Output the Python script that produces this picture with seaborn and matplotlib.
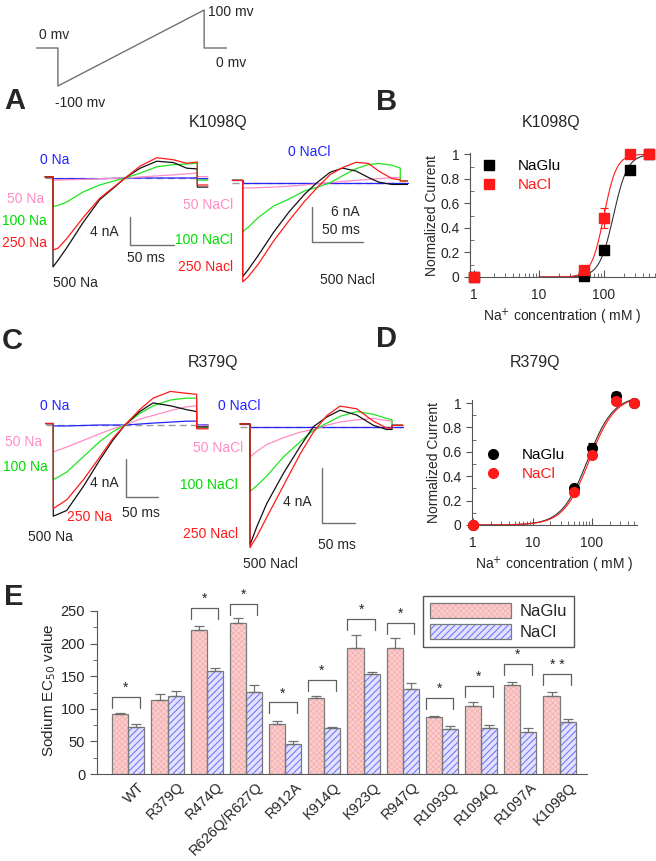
import numpy as np
import matplotlib
matplotlib.use("Agg")
import matplotlib.pyplot as plt
from matplotlib.lines import Line2D
from matplotlib.patches import Patch
from matplotlib.transforms import ScaledTranslation
import seaborn as sns
import pandas as pd

sns.set_style("ticks")
plt.rcParams['font.family'] = ['Liberation Sans', 'DejaVu Sans']
plt.rcParams['hatch.linewidth'] = 0.7

W, H = 656, 861

BLUE, PINK, GREEN, RED, BLACK, GRAY = '#2323ff', '#ff8cc6', '#1ee61e', '#ff1a1a', '#111111', '#9a9a9a'

# ---------------- data ----------------
# voltage protocol (ms, mV)
prot_t = [-24, 0, 0, 160, 160, 185]
prot_v = [0, 0, -100, 100, 0, 0]

# A left: K1098Q, NaGlu (ms, nA)
al_t = [0, 6, 16, 34, 53, 70, 82, 99, 118, 137, 152, 164]
al_500 = [-12.7, -11.7, -9.9, -6.4, -3.1, -1.3, 0, 1.4, 2.4, 2.2, 1.4, 1.3]
al_250 = [-10.3, -10.0, -8.6, -5.7, -2.9, -1.2, 0, 1.7, 2.9, 2.6, 2.1, 2.3]
al_100 = [-4.1, -3.9, -3.4, -2.0, -1.0, -0.4, 0, 0.7, 1.6, 1.9, 2.0, 2.1]
al_50 = [-0.3, -0.3, -0.25, -0.2, -0.1, -0.05, 0, 0.15, 0.3, 0.45, 0.6, 0.7]
al_0 = [-0.1, -0.1, -0.1, -0.1, -0.1, -0.05, 0, 0, 0, 0, 0, 0]
al_post = [-1.3, -1.0, -0.3, 0.2, -0.1]

# A right: K1098Q, NaCl
ar_t = [0, 5, 15, 30, 45, 60, 72, 85, 97, 110, 122, 132, 145, 153]
ar_500 = [-16.1, -15.0, -12.5, -8.5, -5.0, -2.0, 0, 1.8, 2.5, 2.0, 0.9, 0.1, -0.3, -0.3]
ar_250 = [-17.0, -16.2, -14.0, -10.0, -6.5, -3.2, -0.9, 1.4, 2.6, 3.5, 3.3, 2.0, 0.7, 0.5]
ar_100 = [-8.4, -7.7, -6.0, -4.0, -2.8, -1.4, -0.8, 0, 1.2, 2.4, 3.1, 3.3, 3.0, 2.5]
ar_50 = [-0.9, -0.9, -0.85, -0.75, -0.6, -0.4, -0.2, 0, 0.2, 0.4, 0.55, 0.7, 0.85, 0.9]
ar_0 = [0] * 14
ar_post = [-0.3, 0.3, 0.3, 0.3, 0.0]

# C left: R379Q, NaGlu
cl_t = [0, 21, 47, 73, 93, 112, 135, 156, 183, 208, 224]
cl_500 = [-9.5, -8.9, -6.4, -3.6, -1.6, 0, 1.4, 2.3, 2.0, 1.6, 1.4]
cl_250 = [-8.7, -7.8, -5.7, -3.3, -1.4, 0, 1.6, 2.8, 3.5, 3.3, 3.2]
cl_100 = [-5.7, -4.9, -3.3, -1.7, -0.7, 0, 1.2, 2.0, 2.6, 2.8, 2.8]
cl_50 = [-2.8, -2.3, -1.6, -0.9, -0.4, 0, 0.6, 1.0, 1.5, 1.9, 2.0]
cl_0 = [-0.1, -0.1, -0.05, 0, 0, 0, 0.1, 0.2, 0.3, 0.4, 0.4]
cl_post = [-0.2, -0.4, -0.3, -0.1, 0.0]

# C right: R379Q, NaCl
cr_t = [0, 10, 25, 50, 75, 95, 115, 135, 160, 185, 205, 213]
cr_500 = [-8.6, -7.3, -5.6, -3.4, -1.45, 0, 0.7, 1.2, 0.85, 0.1, -0.2, -0.2]
cr_250 = [-8.8, -8.0, -6.6, -4.3, -2.0, -0.4, 0.8, 1.5, 1.3, 0.4, -0.1, -0.1]
cr_100 = [-4.7, -4.3, -3.6, -2.2, -1.1, -0.25, 0.25, 0.75, 1.1, 0.9, 0.6, 0.5]
cr_50 = [-2.2, -1.8, -1.3, -0.8, -0.4, -0.2, 0.1, 0.35, 0.5, 0.6, 0.45, 0.4]
cr_0 = [-0.05] * 12
cr_post = [0.1, 0.1, 0.1, 0.1, 0.0]

# dose response (mM, normalized current)
conc = [1, 50, 100, 250, 500]
b_glu = [0, 0.01, 0.22, 0.87, 1.0]
b_glu_err = [0, 0.01, 0.02, 0.03, 0]
b_cl = [0, 0.06, 0.48, 1.0, 1.0]
b_cl_err = [0, 0.02, 0.08, 0.01, 0]
b_fit_ec50 = [140, 100]
b_fit_n = [4.0, 4.5]
d_glu = [0, 0.30, 0.63, 1.06, 1.0]
d_glu_err = [0, 0.02, 0.04, 0.03, 0]
d_cl = [0, 0.27, 0.57, 1.02, 1.0]
d_cl_err = [0, 0.02, 0.02, 0.02, 0]
d_fit_ec50 = [84, 90]
d_fit_n = [2.0, 2.0]
d_fit_max = [1.06, 1.06]

# E: EC50 values
mutants = ['WT', 'R379Q', 'R474Q', 'R626Q/R627Q', 'R912A', 'K914Q', 'K923Q',
           'R947Q', 'R1093Q', 'R1094Q', 'R1097A', 'K1098Q']
ec50_glu = [92, 114, 221, 231, 77, 117, 194, 194, 87, 105, 136, 120]
ec50_glu_err = [2, 8, 6, 8, 5, 3, 19, 14, 2, 6, 5, 6]
ec50_cl = [72, 120, 158, 126, 46, 71, 153, 131, 69, 71, 65, 80]
ec50_cl_err = [5, 7, 5, 10, 4, 1, 3, 8, 5, 4, 5, 5]
sig_marks = ['*', '', '*', '*', '*', '*', '*', '*', '*', '*', '*', '* *']
sig_height = [118, 0, 255, 261, 110, 144, 238, 232, 117, 135, 169, 153]

# ---------------- figure ----------------
fig = plt.figure(figsize=(W / 100, H / 100), dpi=100)


def px_axes(l, t, r, b):
    return fig.add_axes([l / W, 1 - b / H, (r - l) / W, (b - t) / H])


def ftext(x, y, s, **kw):
    kw.setdefault('va', 'center')
    kw.setdefault('fontsize', 10)
    fig.text(x / W, 1 - y / H, s, **kw)


def trace_axes(l, t, r, b, t0, pxms, base, pxna):
    ax = px_axes(l, t, r, b)
    ax.set_xlim((l - t0) / pxms, (r - t0) / pxms)
    ax.set_ylim((base - b) / pxna, (base - t) / pxna)
    ax.axis('off')
    return ax


def draw_set(ax, t, curves, posts, t_pre, t_end, pre=0.15):
    # curves: 500, 250, 100, 50, 0
    cols = [BLACK, RED, GREEN, PINK, BLUE]
    ax.plot([t_pre, t_end], [0, 0], color=GRAY, lw=1.0, ls=(0, (5, 3)))
    for k in [4, 3, 2, 0, 1]:
        tt = [t_pre, 0] + list(t) + [t[-1], t_end]
        yy = [pre, pre] + list(curves[k]) + [posts[k], posts[k]]
        ax.plot(tt, yy, color=cols[k], lw=0.9)


def scale_bar(ax, t, y, dy, dt=50):
    ax.plot([t, t, t + dt], [y + dy, y, y], color='#707070', lw=1.0)


# protocol
ax_p = px_axes(36, 8, 227, 88)
ax_p.plot(prot_t, prot_v, color='#707070', lw=1.0)
ax_p.set_xlim(-24, 185)
ax_p.set_ylim(-105.3, 105.3)
ax_p.axis('off')
ftext(39, 35, '0 mv')
ftext(208, 12, '100 mv')
ftext(216, 63, '0 mv')
ftext(55, 103, '-100 mv')

# panel letters and titles
for x, y, s in [(4, 101, 'A'), (376, 102, 'B'), (2, 341, 'C'), (376, 339, 'D'), (4, 597, 'E')]:
    ftext(x, y, s, fontsize=21, fontweight='bold')
for x, y, s in [(218, 122, 'K1098Q'), (551, 123, 'K1098Q'), (213, 362, 'R379Q'), (535, 363, 'R379Q')]:
    ftext(x, y, s, fontsize=11.5, ha='center')

# A traces
ax_al = trace_axes(40, 150, 212, 280, 53, 0.88, 178, 7.0)
draw_set(ax_al, al_t, [al_500, al_250, al_100, al_50, al_0], al_post, -9, 176)
scale_bar(ax_al, 87.5, -9.6, 4)
ax_ar = trace_axes(228, 148, 410, 290, 242.7, 1.03, 182.7, 5.83)
draw_set(ax_ar, ar_t, [ar_500, ar_250, ar_100, ar_50, ar_0], ar_post, -10, 160, pre=0.4)
scale_bar(ax_ar, 67, -10.1, 6)

ftext(40, 160, '0 Na', color=BLUE)
ftext(7, 199, '50 Na', color=PINK)
ftext(2, 221, '100 Na', color='#00dd00')
ftext(2, 243, '250 Na', color=RED)
ftext(53, 283, '500 Na')
ftext(90, 232, '4 nA')
ftext(127, 258, '50 ms')
ftext(288, 152, '0 NaCl', color=BLUE)
ftext(183, 205, '50 NaCl', color=PINK)
ftext(175, 240, '100 NaCl', color='#00dd00')
ftext(178, 267, '250 Nacl', color=RED)
ftext(320, 280, '500 Nacl')
ftext(331, 212, '6 nA')
ftext(322, 230, '50 ms')

# C traces
ax_cl = trace_axes(40, 390, 212, 520, 53.3, 0.64, 425, 9.6)
draw_set(ax_cl, cl_t, [cl_500, cl_250, cl_100, cl_50, cl_0], cl_post, -12, 242)
scale_bar(ax_cl, 113.6, -7.5, 4)
ax_cr = trace_axes(235, 390, 410, 552, 250, 0.667, 426.7, 13.75)
draw_set(ax_cr, cr_t, [cr_500, cr_250, cr_100, cr_50, cr_0], cr_post, -15, 229, pre=0.2)
scale_bar(ax_cr, 107.5, -7.0, 4)

ftext(40, 406, '0 Na', color=BLUE)
ftext(5, 442, '50 Na', color=PINK)
ftext(3, 467, '100 Na', color='#00dd00')
ftext(90, 483, '4 nA')
ftext(67, 517, '250 Na', color=RED)
ftext(28, 537, '500 Na')
ftext(122, 513, '50 ms')
ftext(218, 406, '0 NaCl', color=BLUE)
ftext(193, 448, '50 NaCl', color=PINK)
ftext(180, 485, '100 NaCl', color='#00dd00')
ftext(183, 534, '250 Nacl', color=RED)
ftext(243, 564, '500 Nacl')
ftext(283, 502, '4 nA')
ftext(318, 545, '50 ms')


# dose-response panels
def hill(x, ec50, n, top=1.0):
    return top / (1 + (ec50 / x) ** n)


def dose_panel(ax, glu, glu_err, cl, cl_err, ec50s, ns, tops, marker, xlim, ylim, x0):
    xs = np.logspace(np.log10(x0), np.log10(500), 200)
    for ec, n, top, c in zip(ec50s, ns, tops, ['#333333', RED]):
        sns.lineplot(x=xs, y=hill(xs, ec, n, top), color=c, lw=0.8, ax=ax)
    for y, e, c in [(glu, glu_err, 'black'), (cl, cl_err, RED)]:
        ax.errorbar(conc, y, yerr=e, fmt=marker, color=c, ms=7, capsize=3,
                    elinewidth=0.8, capthick=0.8, clip_on=False, zorder=5)
    ax.set_xscale('log')
    ax.set_xlim(*xlim)
    ax.set_ylim(*ylim)
    ax.set_xticks([1, 10, 100])
    ax.set_xticklabels(['1', '10', '100'])
    ax.set_yticks([0, 0.2, 0.4, 0.6, 0.8, 1.0])
    ax.set_yticklabels(['0', '0.2', '0.4', '0.6', '0.8', '1'])
    ax.set_yticks(np.arange(0.1, 1.0, 0.2), minor=True)
    ax.tick_params(axis='x', which='both', direction='in', labelsize=10, pad=8, color='#555')
    ax.tick_params(axis='x', which='major', length=5)
    ax.tick_params(axis='x', which='minor', length=3)
    ax.tick_params(axis='y', which='major', direction='out', length=4, labelsize=10, color='#555')
    ax.tick_params(axis='y', which='minor', direction='in', length=3, color='#555')
    sns.despine(ax=ax)
    for s in ['left', 'bottom']:
        ax.spines[s].set_color('#555')
    ax.set_xlabel('Na$^{+}$ concentration ( mM )', fontsize=10, labelpad=3)
    ax.set_ylabel('Normalized Current', fontsize=10, labelpad=1)
    handles = [Line2D([], [], marker=marker, ls='', color=c, ms=7) for c in ['black', RED]]
    return handles


ax_b = px_axes(470, 153, 655, 277)
hb = dose_panel(ax_b, b_glu, b_glu_err, b_cl, b_cl_err, b_fit_ec50, b_fit_n, [1, 1], 's',
                (0.87, 610), (0, 1.01), 10)
ax_b.legend(hb, ['NaGlu', 'NaCl'], loc='upper left', bbox_to_anchor=(481 / W, 1 - 159 / H),
            bbox_transform=fig.transFigure, frameon=False, labelcolor=['black', RED], fontsize=11,
            handletextpad=1.4, handlelength=1.0, labelspacing=0.35, borderaxespad=0, borderpad=0)

ax_d = px_axes(472, 400, 637, 525)
hd = dose_panel(ax_d, d_glu, d_glu_err, d_cl, d_cl_err, d_fit_ec50, d_fit_n, d_fit_max, 'o',
                (0.96, 570), (0, 1.025), 1)
ax_d.legend(hd, ['NaGlu', 'NaCl'], loc='upper left', bbox_to_anchor=(485 / W, 1 - 448 / H),
            bbox_transform=fig.transFigure, frameon=False, labelcolor=['black', RED], fontsize=11,
            handletextpad=1.4, handlelength=1.0, labelspacing=0.35, borderaxespad=0, borderpad=0)

# E bar chart
ax_e = px_axes(97, 611, 587, 774)
df = pd.DataFrame({
    'mutant': mutants * 2,
    'ec50': ec50_glu + ec50_cl,
    'salt': ['NaGlu'] * len(mutants) + ['NaCl'] * len(mutants),
})
sns.barplot(data=df, x='mutant', y='ec50', hue='salt', palette={'NaGlu': '#fccfcf', 'NaCl': '#e2e2ff'},
            width=0.82, errorbar=None, saturation=1, legend=False, ax=ax_e)

PINK_HATCH, BLUE_HATCH = '#f4b2b2', '#6b6bff'
n = len(mutants)
bars = list(ax_e.patches)
for i, p in enumerate(bars):
    glu = i < n
    p.set_hatch('xxxxxx' if glu else '/////')
    p.set_edgecolor(PINK_HATCH if glu else BLUE_HATCH)
    p.set_linewidth(0)
    x, w, h = p.get_x(), p.get_width(), p.get_height()
    ax_e.bar(x, h, w, align='edge', fill=False, edgecolor='#7a7a7a', lw=0.9, zorder=3)
    err = ec50_glu_err[i] if glu else ec50_cl_err[i - n]
    ax_e.errorbar(x + w / 2, h, yerr=[[0], [err]], fmt='none', ecolor='#707070',
                  capsize=3.5, elinewidth=0.9, capthick=0.9, zorder=4)

for i, (m, h) in enumerate(zip(sig_marks, sig_height)):
    if not m:
        continue
    ax_e.plot([i - 0.41, i - 0.41, i + 0.29, i + 0.29], [h - 17, h, h, h - 17],
              color='#606060', lw=0.9, clip_on=False)
    ax_e.text(i - 0.06, h + 3, m, ha='center', va='bottom', fontsize=10)

ax_e.set_xlim(-0.8, 11.7)
ax_e.set_ylim(0, 250)
ax_e.set_yticks([0, 50, 100, 150, 200, 250])
ax_e.set_yticks(np.arange(25, 250, 50), minor=True)
ax_e.tick_params(axis='y', which='major', direction='out', length=5, labelsize=10.5, color='#555')
ax_e.tick_params(axis='y', which='minor', direction='out', length=3, color='#555')
ax_e.tick_params(axis='x', length=0, pad=2)
ax_e.set_xticks(range(n))
ax_e.set_xticklabels(mutants, rotation=45, ha='right', va='top', rotation_mode='anchor', fontsize=10.5)
shift = ScaledTranslation(9 / 100, -3 / 100, fig.dpi_scale_trans)
for lab in ax_e.get_xticklabels():
    lab.set_transform(lab.get_transform() + shift)
ax_e.set_xlabel('')
ax_e.set_ylabel('')
sns.despine(ax=ax_e)
for s in ['left', 'bottom']:
    ax_e.spines[s].set_color('#555')
ftext(49, 690, 'Sodium EC$_{50}$ value', rotation=90, ha='center', fontsize=11)

edge = Patch(fill=False, edgecolor='#7a7a7a', lw=0.9)
leg_handles = [
    (Patch(facecolor='#fccfcf', hatch='xxxxxx', edgecolor=PINK_HATCH, lw=0), edge),
    (Patch(facecolor='#e2e2ff', hatch='/////', edgecolor=BLUE_HATCH, lw=0), edge),
]
leg = ax_e.legend(leg_handles, ['NaGlu', 'NaCl'], loc='upper left', bbox_to_anchor=(423 / W, 1 - 596 / H),
                  bbox_transform=fig.transFigure, borderaxespad=0, fontsize=12, handlelength=4.9,
                  handleheight=1.0, handletextpad=0.5, borderpad=0.4, fancybox=False,
                  edgecolor='#555', framealpha=1, labelspacing=0.3)
leg.get_frame().set_linewidth(1.0)

fig.savefig('out.png', dpi=100)
